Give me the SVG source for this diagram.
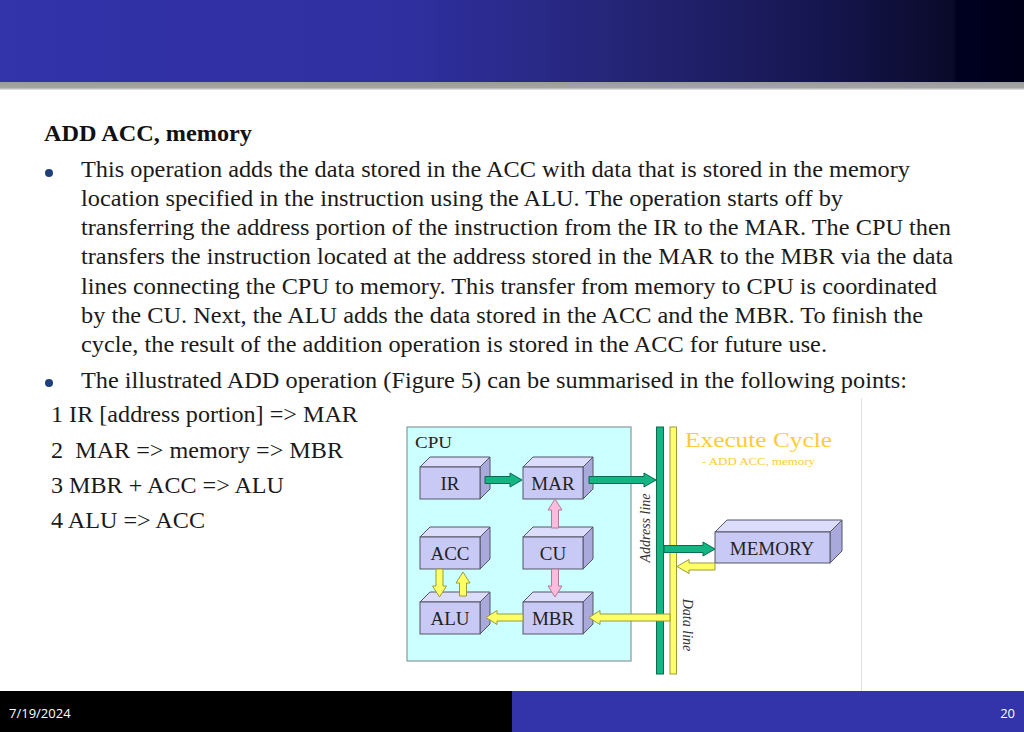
<svg xmlns="http://www.w3.org/2000/svg" width="1024" height="732" viewBox="0 0 1024 732">
<defs>
<linearGradient id="hdr" x1="0" y1="0" x2="1" y2="0">
<stop offset="0" stop-color="#3333aa"/>
<stop offset="0.4" stop-color="#2f2fa0"/>
<stop offset="0.6" stop-color="#252578"/>
<stop offset="0.8" stop-color="#161650"/>
<stop offset="0.93" stop-color="#0a0a2a"/>
<stop offset="0.935" stop-color="#000022"/>
<stop offset="1" stop-color="#000018"/>
</linearGradient>
<linearGradient id="shadow" x1="0" y1="0" x2="0" y2="1">
<stop offset="0" stop-color="#9c9c9c"/>
<stop offset="0.7" stop-color="#a4a4a4"/>
<stop offset="1" stop-color="#e8e8e8"/>
</linearGradient>
</defs>
<style>
.body{font-family:"Liberation Serif","Times New Roman",serif;font-size:23px;fill:#1a1a1a}
.head{font-family:"Liberation Serif","Times New Roman",serif;font-size:23px;font-weight:bold;fill:#111}
.lbl{font-family:"Liberation Serif","Times New Roman",serif;font-size:19px;fill:#222;text-anchor:middle}
.front{fill:#c9c9f5;stroke:#555566;stroke-width:1}
.top{fill:#dcdcfb;stroke:#555566;stroke-width:1}
.side{fill:#a9a9dc;stroke:#555566;stroke-width:1}
.g{fill:#13b583;stroke:#0a6b50;stroke-width:1}
.y{fill:#ffff66;stroke:#9a9a3a;stroke-width:1}
.p{fill:#ffbbdd;stroke:#b07c98;stroke-width:1}
.foot{font-family:"Open Sans","Liberation Sans",sans-serif;font-size:13px;fill:#ffffff}
.it{font-family:"Liberation Serif","Times New Roman",serif;font-size:14px;font-style:italic;fill:#333;text-anchor:middle}
.gold{font-family:"Liberation Serif","Times New Roman",serif;fill:#ffcc33}
</style>
<rect width="1024" height="732" fill="#ffffff"/>
<g id="header">
<rect x="0" y="0" width="1024" height="82" fill="url(#hdr)"/>
<rect x="0" y="82" width="1024" height="8" fill="url(#shadow)"/>
</g>
<g id="text">
<text class="head" x="44" y="141" textLength="208" lengthAdjust="spacingAndGlyphs">ADD ACC, memory</text>
<circle cx="49" cy="173" r="4" fill="#1f3f7a"/>
<text class="body" x="81" y="177" textLength="829" lengthAdjust="spacingAndGlyphs">This operation adds the data stored in the ACC with data that is stored in the memory</text>
<text class="body" x="81" y="206" textLength="762" lengthAdjust="spacingAndGlyphs">location specified in the instruction using the ALU. The operation starts off by</text>
<text class="body" x="81" y="235" textLength="870" lengthAdjust="spacingAndGlyphs">transferring the address portion of the instruction from the IR to the MAR. The CPU then</text>
<text class="body" x="81" y="264" textLength="872" lengthAdjust="spacingAndGlyphs">transfers the instruction located at the address stored in the MAR to the MBR via the data</text>
<text class="body" x="81" y="294" textLength="856" lengthAdjust="spacingAndGlyphs">lines connecting the CPU to memory. This transfer from memory to CPU is coordinated</text>
<text class="body" x="81" y="323" textLength="842" lengthAdjust="spacingAndGlyphs">by the CU. Next, the ALU adds the data stored in the ACC and the MBR. To finish the</text>
<text class="body" x="81" y="352" textLength="746" lengthAdjust="spacingAndGlyphs">cycle, the result of the addition operation is stored in the ACC for future use.</text>
<circle cx="49" cy="383" r="4" fill="#1f3f7a"/>
<text class="body" x="81" y="388" textLength="826" lengthAdjust="spacingAndGlyphs">The illustrated ADD operation (Figure 5) can be summarised in the following points:</text>
<text class="body" x="51" y="422" textLength="307" lengthAdjust="spacingAndGlyphs">1 IR [address portion] =&gt; MAR</text>
<text class="body" x="51" y="458" xml:space="preserve" textLength="292" lengthAdjust="spacingAndGlyphs">2  MAR =&gt; memory =&gt; MBR</text>
<text class="body" x="51" y="493" textLength="233" lengthAdjust="spacingAndGlyphs">3 MBR + ACC =&gt; ALU</text>
<text class="body" x="51" y="528" textLength="154" lengthAdjust="spacingAndGlyphs">4 ALU =&gt; ACC</text>
</g>
<line x1="861.5" y1="398" x2="861.5" y2="691" stroke="#e2e2e2" stroke-width="1"/>
<g id="cpu">
<rect x="407" y="427" width="224" height="234" fill="#ccffff" stroke="#8a9a9a" stroke-width="1.2"/>
<text x="415" y="448" font-family="Liberation Serif, serif" font-size="17" fill="#222" textLength="37" lengthAdjust="spacingAndGlyphs">CPU</text>
</g>
<g id="buses">
<rect x="656.5" y="427" width="7" height="247" class="g"/>
<rect x="670" y="427" width="6.5" height="247" class="y"/>
<text class="it" transform="translate(650,528) rotate(-90)">Address line</text>
<text class="it" transform="translate(683,625) rotate(90)">Data line</text>
</g>
<g id="node-ir">
<path class="top" d="M420,467 L430,457 L490,457 L480,467 Z"/>
<path class="side" d="M480,467 L490,457 L490,489 L480,499 Z"/>
<rect class="front" x="420" y="467" width="60" height="32"/>
<text class="lbl" x="450" y="490">IR</text>
</g>
<g id="node-mar">
<path class="top" d="M523,467 L533,457 L593,457 L583,467 Z"/>
<path class="side" d="M583,467 L593,457 L593,489 L583,499 Z"/>
<rect class="front" x="523" y="467" width="60" height="32"/>
<text class="lbl" x="553" y="490">MAR</text>
</g>
<g id="node-acc">
<path class="top" d="M420,537 L430,527 L490,527 L480,537 Z"/>
<path class="side" d="M480,537 L490,527 L490,559 L480,569 Z"/>
<rect class="front" x="420" y="537" width="60" height="32"/>
<text class="lbl" x="450" y="560">ACC</text>
</g>
<g id="node-cu">
<path class="top" d="M523,537 L533,527 L593,527 L583,537 Z"/>
<path class="side" d="M583,537 L593,527 L593,559 L583,569 Z"/>
<rect class="front" x="523" y="537" width="60" height="32"/>
<text class="lbl" x="553" y="560">CU</text>
</g>
<g id="node-alu">
<path class="top" d="M420,602 L430,592 L490,592 L480,602 Z"/>
<path class="side" d="M480,602 L490,592 L490,624 L480,634 Z"/>
<rect class="front" x="420" y="602" width="60" height="32"/>
<text class="lbl" x="450" y="625">ALU</text>
</g>
<g id="node-mbr">
<path class="top" d="M523,602 L533,592 L593,592 L583,602 Z"/>
<path class="side" d="M583,602 L593,592 L593,624 L583,634 Z"/>
<rect class="front" x="523" y="602" width="60" height="32"/>
<text class="lbl" x="553" y="625">MBR</text>
</g>
<g id="node-memory">
<path class="top" d="M715,532 L727,520 L842,520 L830,532 Z"/>
<path class="side" d="M830,532 L842,520 L842,551 L830,563 Z"/>
<rect class="front" x="715" y="532" width="115" height="31"/>
<text class="lbl" x="772" y="555">MEMORY</text>
</g>
<g id="title">
<text class="gold" x="685" y="447" font-size="22" textLength="147" lengthAdjust="spacingAndGlyphs">Execute Cycle</text>
<text class="gold" x="702" y="465" font-size="11" textLength="113" lengthAdjust="spacingAndGlyphs">- ADD ACC, memory</text>
</g>
<g id="connectors">
<polygon class="g" points="485,476.5 510,476.5 510,473 522,480 510,487 510,483.5 485,483.5"/>
<polygon class="g" points="589,476.5 644,476.5 644,473 656,480 644,487 644,483.5 589,483.5"/>
<polygon class="p" points="551.5,528 551.5,510 548,510 555,499 562,510 558.5,510 558.5,528"/>
<polygon class="p" points="551.5,569 551.5,586 548,586 555,597 562,586 558.5,586 558.5,569"/>
<polygon class="y" points="436,569 436,586 432.5,586 439.5,597 446.5,586 443,586 443,569"/>
<polygon class="y" points="459.5,596 459.5,583 456,583 463,572 470,583 466.5,583 466.5,596"/>
<polygon class="y" points="523,614 497,614 497,610.5 486,617.5 497,624.5 497,621 523,621"/>
<polygon class="y" points="670,614 600,614 600,610.5 589,617.5 600,624.5 600,621 670,621"/>
<polygon class="g" points="664,545.5 703,545.5 703,542 715,549 703,556 703,552.5 664,552.5"/>
<polygon class="y" points="715,563 689,563 689,559.5 677,566.5 689,573.5 689,570 715,570"/>
</g>
<g id="footer">
<rect x="0" y="691" width="512" height="41" fill="#000000"/>
<rect x="512" y="691" width="512" height="41" fill="#3333aa"/>
<text class="foot" x="9" y="718">7/19/2024</text>
<text class="foot" x="1015" y="718" text-anchor="end">20</text>
</g>
</svg>
